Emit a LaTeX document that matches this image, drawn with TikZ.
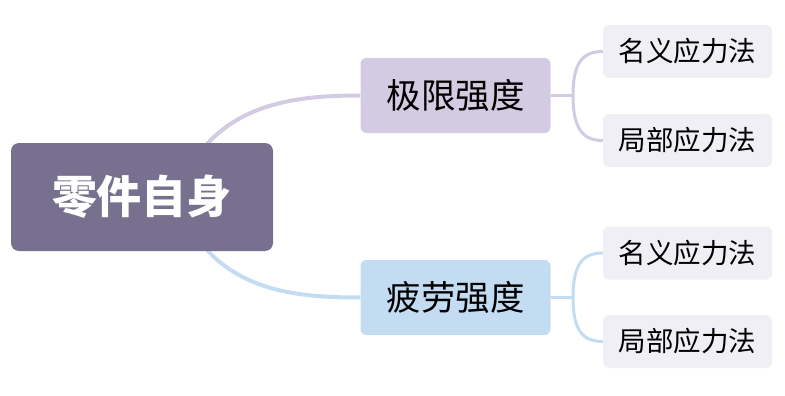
\documentclass[tikz,border=0pt]{standalone}
\usepackage{fontspec}
\usetikzlibrary{backgrounds}
\setmainfont{Noto Sans CJK SC}
\definecolor{rootc}{HTML}{77718F}
\definecolor{bAc}{HTML}{D3CBE2}
\definecolor{bBc}{HTML}{C4DCF2}
\definecolor{leafc}{HTML}{F0EFF6}
\tikzset{
  rootbox/.style={fill=rootc, rounded corners=8pt, minimum width=262pt, minimum height=108pt, inner sep=0pt, text=white, font=\fontsize{45}{50}\selectfont\bfseries},
  branchbox/.style={rounded corners=6pt, minimum width=190pt, minimum height=75pt, inner sep=0pt, text=black, font=\fontsize{34.5}{40}\selectfont},
  leafbox/.style={fill=leafc, rounded corners=6pt, minimum width=169pt, minimum height=53pt, inner sep=0pt, text=black, font=\fontsize{27.5}{32}\selectfont},
  mainlink/.style={line width=4pt},
  sublink/.style={line width=3pt}
}
\begin{document}
\begin{tikzpicture}[x=1pt,y=-1pt]
\useasboundingbox (0,0) rectangle (785,396);
\node[rootbox] (root) at (142,197) {零件自身};
\node[branchbox, fill=bAc] (b1) at (455.5,95.5) {极限强度};
\node[branchbox, fill=bBc] (b2) at (455.5,297.5) {疲劳强度};
\node[leafbox] (l1) at (687.5,51.5) {名义应力法};
\node[leafbox] (l2) at (687.5,140.5) {局部应力法};
\node[leafbox] (l3) at (687.5,253) {名义应力法};
\node[leafbox] (l4) at (687.5,341.5) {局部应力法};
\coordinate (r1) at (200,152);
\coordinate (r2) at (200,242);
\coordinate (k1) at (573,95.5);
\coordinate (k2) at (573,297.5);
\begin{scope}[on background layer]
\draw[mainlink, bAc] (r1) .. controls (240,102) and (300,95.5) .. (b1.west);
\draw[mainlink, bBc] (r2) .. controls (240,292) and (300,297.5) .. (b2.west);
\draw[sublink, bAc] (b1.east) -- (k1);
\draw[sublink, bAc] (k1) .. controls (573,62) and (583,51.5) .. (l1.west);
\draw[sublink, bAc] (k1) .. controls (573,129) and (583,140.5) .. (l2.west);
\draw[sublink, bBc] (b2.east) -- (k2);
\draw[sublink, bBc] (k2) .. controls (573,264) and (583,253) .. (l3.west);
\draw[sublink, bBc] (k2) .. controls (573,331) and (583,341.5) .. (l4.west);
\end{scope}
\end{tikzpicture}
\end{document}
